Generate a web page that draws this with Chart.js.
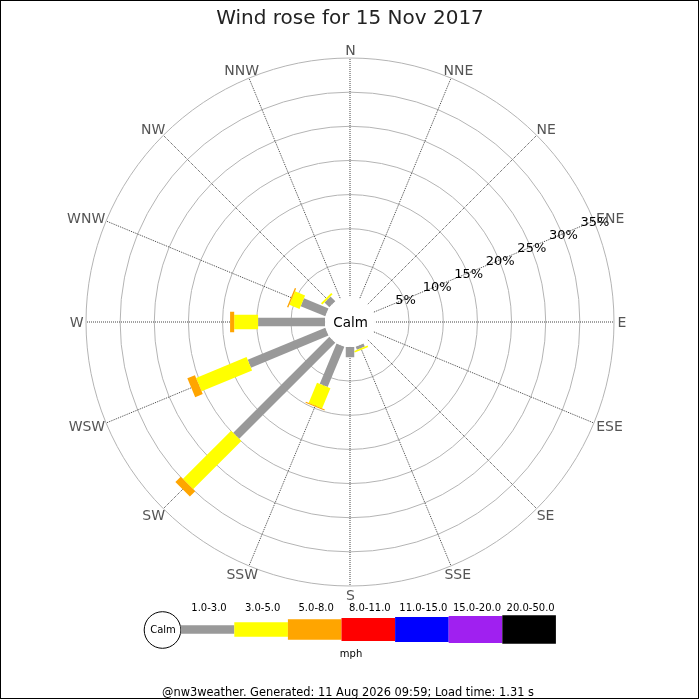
<!DOCTYPE html>
<html>
<head>
<meta charset="utf-8">
<script src="https://cdn.jsdelivr.net/npm/chart.js@4.4.1/dist/chart.umd.min.js"></script>
<style>
    html, body { margin: 0; padding: 0; background: #fff; }
    canvas { display: block; }
</style>
</head>
<body>
<canvas id="rose" width="700" height="700"></canvas>
<script>
// compass points, clockwise from north
const directions = ['N', 'NNE', 'NE', 'ENE', 'E', 'ESE', 'SE', 'SSE', 'S', 'SSW', 'SW', 'WSW', 'W', 'WNW', 'NW', 'NNW'];
const speedBins = ['1.0-3.0', '3.0-5.0', '5.0-8.0', '8.0-11.0', '11.0-15.0', '15.0-20.0', '20.0-50.0'];
const binColors = ['#999999', '#ffff00', '#ffa500', '#ff0000', '#0000ff', '#a020f0', '#000000'];
const binWidths = [8.5, 14.5, 20.5, 23, 25, 27, 28.5];

// % of the day per direction, one array per speed bin (mph)
const freq1to3 = [0, 0, 0, 0, 0, 0, 0, 0.5, 1.5, 6.4, 19.9, 12.3, 9.8, 3.9, 1.0, 0];
const freq3to5 = [0, 0, 0, 0, 0, 0, 0, 0.25, 0, 3.2, 10.0, 8.0, 3.5, 1.6, 0.3, 0];
const freq5to8 = [0, 0, 0, 0, 0, 0, 0, 0, 0, 0.15, 1.1, 1.2, 0.6, 0.2, 0, 0];
const freq8to11 = [0, 0, 0, 0, 0, 0, 0, 0, 0, 0, 0, 0, 0, 0, 0, 0];
const freq11to15 = [0, 0, 0, 0, 0, 0, 0, 0, 0, 0, 0, 0, 0, 0, 0, 0];
const freq15to20 = [0, 0, 0, 0, 0, 0, 0, 0, 0, 0, 0, 0, 0, 0, 0, 0];
const freq20to50 = [0, 0, 0, 0, 0, 0, 0, 0, 0, 0, 0, 0, 0, 0, 0, 0];
const binFreqs = [freq1to3, freq3to5, freq5to8, freq8to11, freq11to15, freq15to20, freq20to50];

const pctTicks = [5, 10, 15, 20, 25, 30, 35];
const tickLabelDir = 3; // percent labels run along ENE

const FONT = "'DejaVu Sans', sans-serif";
Chart.defaults.font.family = FONT;

// bars, calm circle, labels and the speed legend
const rosePlugin = {
    id: 'rose',
    afterDatasetsDraw(chart) {
        const r = chart.scales.r;
        const ctx = chart.ctx;
        ctx.save();
        ctx.lineCap = 'butt';

        directions.forEach((d, i) => {
            let cum = 0;
            chart.data.datasets.forEach((ds, b) => {
                const v = ds.data[i];
                if (!v) return;
                const p0 = r.getPointPosition(i, r.getDistanceFromCenterForValue(cum));
                cum += v;
                const p1 = r.getPointPosition(i, r.getDistanceFromCenterForValue(cum));
                ctx.strokeStyle = binColors[b];
                ctx.lineWidth = binWidths[b];
                ctx.beginPath();
                ctx.moveTo(p0.x, p0.y);
                ctx.lineTo(p1.x, p1.y);
                ctx.stroke();
            });
        });

        // calm hole
        const calmR = r.getDistanceFromCenterForValue(0);
        ctx.fillStyle = '#fff';
        ctx.beginPath();
        ctx.arc(r.xCenter, r.yCenter, calmR, 0, Math.PI * 2);
        ctx.fill();
        ctx.fillStyle = '#000';
        ctx.font = '13.5px ' + FONT;
        ctx.textAlign = 'center';
        ctx.textBaseline = 'alphabetic';
        ctx.fillText('Calm', r.xCenter + 0.5, r.yCenter + 5);

        // compass labels
        ctx.font = '14px ' + FONT;
        ctx.fillStyle = '#555';
        ctx.textBaseline = 'middle';
        directions.forEach((d, i) => {
            const a = i * Math.PI / 8;
            const base = r.getPointPosition(i, r.drawingArea + 3);
            const w = ctx.measureText(d).width;
            ctx.fillText(d, base.x + 0.5 + w / 2 * Math.sin(a), base.y + 1.5 - 5.5 * Math.cos(a));
        });

        // percent labels
        ctx.font = '13px ' + FONT;
        ctx.fillStyle = '#000';
        pctTicks.forEach(v => {
            const p = r.getPointPosition(tickLabelDir, r.getDistanceFromCenterForValue(v));
            ctx.fillText(v + '%', p.x + 1, p.y + 1.5);
        });
        ctx.restore();
    },
    afterDraw(chart) {
        const ctx = chart.ctx;
        ctx.save();

        // legend
        const lx = 180.7, ly = 629.5, segW = 53.6;
        ctx.fillStyle = '#fff';
        ctx.strokeStyle = '#000';
        ctx.lineWidth = 1;
        ctx.beginPath();
        ctx.arc(162.5, 630, 18.3, 0, Math.PI * 2);
        ctx.fill();
        ctx.stroke();
        ctx.fillStyle = '#000';
        ctx.font = '10px ' + FONT;
        ctx.textAlign = 'center';
        ctx.textBaseline = 'alphabetic';
        ctx.fillText('Calm', 163, 633.3);

        speedBins.forEach((lab, b) => {
            const x = lx + b * segW;
            ctx.fillStyle = binColors[b];
            ctx.fillRect(x, ly - binWidths[b] / 2, segW, binWidths[b]);
            ctx.fillStyle = '#000';
            ctx.fillText(lab, x + segW / 2 + 1.5, 610.7);
        });
        ctx.fillText('mph', 351, 656.5);

        // footer
        ctx.font = '11.4px ' + FONT;
        ctx.fillText('@nw3weather. Generated: 11 Aug 2026 09:59; Load time: 1.31 s', 348, 695.5);

        // frame
        ctx.strokeStyle = '#000';
        ctx.strokeRect(0.5, 0.5, 698, 698);
        ctx.restore();
    }
};

new Chart(document.getElementById('rose'), {
    type: 'radar',
    data: {
        labels: directions,
        datasets: speedBins.map((lab, b) => ({
            label: lab,
            data: binFreqs[b],
            showLine: false,
            fill: false,
            pointRadius: 0,
            borderWidth: 0,
            backgroundColor: 'rgba(0,0,0,0)'
        }))
    },
    options: {
        responsive: false,
        animation: false,
        layout: { padding: { left: 86, right: 86, top: 0, bottom: 112 } },
        plugins: {
            legend: { display: false },
            tooltip: { enabled: false },
            title: {
                display: true,
                text: 'Wind rose for 15 Nov 2017',
                color: '#222',
                font: { size: 20, weight: 'normal' },
                padding: { top: 7, bottom: 26 }
            }
        },
        scales: {
            r: {
                min: -3.66,
                max: 35,
                afterBuildTicks: scale => {
                    scale.ticks = pctTicks.map(v => ({ value: v }));
                },
                ticks: { display: false },
                pointLabels: { display: false },
                grid: { circular: true, color: '#b4b4b4', lineWidth: 1 },
                angleLines: { color: '#444', lineWidth: 1, borderDash: [1, 1] }
            }
        }
    },
    plugins: [rosePlugin]
});
</script>
</body>
</html>
